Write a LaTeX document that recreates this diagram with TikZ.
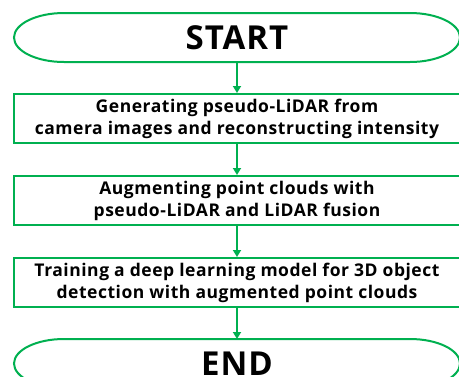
\documentclass[tikz,border=0pt]{standalone}
\usepackage{fontspec}
\setmainfont{Open Sans}
\usepackage{tikz}
\usetikzlibrary{positioning,arrows.meta}
\tikzset{stepbox/.style={draw=grn,line width=2pt,minimum width=446pt,minimum height=49pt,inner sep=0pt,align=center,font=\bfseries\fontsize{17.5}{22}\selectfont\addfontfeatures{LetterSpace=3}},
  term/.style={minimum width=446pt,minimum height=49pt,inner sep=0pt,outer sep=0pt,font=\bfseries\fontsize{33}{36}\selectfont\addfontfeatures{LetterSpace=3}},
  termline/.style={draw=grn,line width=2pt},
  flow/.style={draw=grn,line width=2pt,-{Triangle[length=7pt,width=8pt]}}}

\begin{document}
\begin{tikzpicture}[x=1pt,y=1pt,node distance=31pt]
                \definecolor{grn}{RGB}{0,176,80}

                \useasboundingbox (0,0) rectangle (459,-376);
                \clip (0,0) rectangle (459,-376);

                \node [term] (start) at (237,-37.5) {START};
                \node [stepbox,below=of start] (gen) {Generating pseudo-LiDAR from\\camera images and reconstructing intensity};
                \node [stepbox,below=of gen] (aug) {Augmenting point clouds with\\pseudo-LiDAR and LiDAR fusion};
                \node [stepbox,below=of aug] (train) {Training a deep learning model for 3D object\\detection with augmented point clouds};
                \node [term,below=of train] (stop) {END};

                \foreach \t in {start,stop}
                    \draw [termline] ([xshift=50pt]\t.north west)
                        -- ([xshift=-50pt]\t.north east)
                        arc [start angle=90,end angle=-90,x radius=50pt,y radius=24.5pt]
                        -- ([xshift=50pt]\t.south west)
                        arc [start angle=270,end angle=90,x radius=50pt,y radius=24.5pt]
                        -- cycle
                    ;

                \draw [flow] (start) -- (gen);
                \draw [flow] (gen) -- (aug);
                \draw [flow] (aug) -- (train);
                \draw [flow] (train) -- (stop);
            \end{tikzpicture}
\end{document}
